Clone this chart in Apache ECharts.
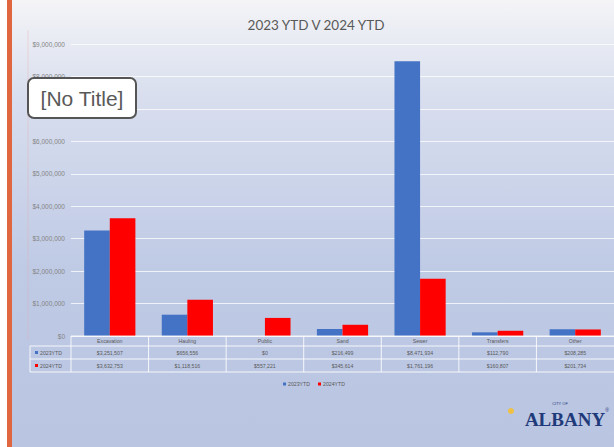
<!DOCTYPE html>
<html><head><meta charset="utf-8">
<script src="https://cdn.jsdelivr.net/npm/echarts@6/dist/echarts.min.js"></script>
<style>html,body{margin:0;padding:0;background:#fff}#c{width:614px;height:447px}</style>
</head><body><div id="c"></div>
<script>
const categories = ['Excavation','Hauling','Public','Sand','Sewer','Transfers','Other'];
const seriesNames = ['2023YTD','2024YTD'];
const values2023 = [3251507, 656556, 0, 216499, 8471934, 112790, 208285];
const values2024 = [3632753, 1118516, 557221, 345614, 1761196, 160807, 201734];
const yTicks = {min:0, max:9000000, interval:1000000};
const titleText = '2023 YTD V 2024 YTD';
const colors = ['#4472c4','#ff0000'];

const fmt = v => '$' + Math.round(v).toLocaleString('en-US');
const chart = echarts.init(document.getElementById('c'), null, {renderer:'svg'});
const gridTop = 44, gridBottom = 111, gridLeft = 71;
const option = {
  animation:false,
  title:{text:titleText,left:311,top:13,textAlign:'center',textStyle:{fontFamily:'Lato',fontSize:13.5,fontWeight:'normal',color:'#595959'}},
  grid:{left:gridLeft,right:0,top:gridTop,bottom:gridBottom},
  legend:{show:false},
  xAxis:{type:'category',data:categories,axisLine:{show:false},axisTick:{show:false},axisLabel:{show:false}},
  yAxis:{type:'value',min:yTicks.min,max:yTicks.max,interval:yTicks.interval,
    axisLabel:{formatter:fmt,fontSize:6.5,color:'#858585',margin:6,fontFamily:'Liberation Sans'},
    splitLine:{lineStyle:{color:'rgba(255,255,255,0.75)',width:1}},axisLine:{show:false},axisTick:{show:false}},
  series:[
    {name:seriesNames[0],type:'bar',data:values2023,barGap:'0%',barCategoryGap:'34%',itemStyle:{color:colors[0]}},
    {name:seriesNames[1],type:'bar',data:values2024,itemStyle:{color:colors[1]}}
  ]
};
chart.setOption(option);

const g = [];
g.push({type:'rect',z:-10,shape:{x:0,y:0,width:614,height:447},style:{fill:'#ffffff'},silent:true});
g.push({type:'rect',z:-9,shape:{x:12,y:0,width:602,height:447},style:{fill:new echarts.graphic.LinearGradient(0,0,0,1,[
  {offset:0,color:'#f4f4f7'},{offset:0.22,color:'#d8deee'},{offset:0.6,color:'#bfcae5'},{offset:1,color:'#b9c5e1'}])},silent:true});
g.push({type:'rect',z:-8,shape:{x:7,y:0,width:5,height:447},style:{fill:'#e0663f'},silent:true});
g.push({type:'line',z:-7,shape:{x1:28,y1:30,x2:28,y2:340},style:{stroke:'rgba(230,170,170,0.35)',lineWidth:1},silent:true});

const x0 = chart.convertToPixel({xAxisIndex:0}, 0);
const x1 = chart.convertToPixel({xAxisIndex:0}, 1);
const band = x1 - x0;
const yBase = chart.convertToPixel({yAxisIndex:0}, 0);
const rowY = [yBase, yBase+10, yBase+23, yBase+36];
const tableLeft = 30;
const lineColor = 'rgba(255,255,255,0.85)';
const txt = {fontSize:5.2,fill:'#595959',fontFamily:'Liberation Sans',align:'center',verticalAlign:'middle'};
g.push({type:'line',z:5,shape:{x1:x0-band/2,y1:rowY[0],x2:614,y2:rowY[0]},style:{stroke:lineColor,lineWidth:1}});
for (let r=1;r<4;r++) g.push({type:'line',z:5,shape:{x1:tableLeft,y1:rowY[r],x2:614,y2:rowY[r]},style:{stroke:lineColor,lineWidth:1}});
g.push({type:'line',z:5,shape:{x1:tableLeft,y1:rowY[1],x2:tableLeft,y2:rowY[3]},style:{stroke:lineColor,lineWidth:1}});
categories.forEach((c,i)=>{
  const cx = chart.convertToPixel({xAxisIndex:0}, i);
  const lx = cx - band/2;
  g.push({type:'line',z:5,shape:{x1:lx,y1:rowY[0],x2:lx,y2:rowY[3]},style:{stroke:lineColor,lineWidth:1}});
  g.push({type:'text',z:6,x:cx,y:(rowY[0]+rowY[1])/2,style:Object.assign({text:c},txt)});
  g.push({type:'text',z:6,x:cx,y:(rowY[1]+rowY[2])/2,style:Object.assign({text:fmt(values2023[i])},txt)});
  g.push({type:'text',z:6,x:cx,y:(rowY[2]+rowY[3])/2,style:Object.assign({text:fmt(values2024[i])},txt)});
});
seriesNames.forEach((n,k)=>{
  const yy = (rowY[k+1]+rowY[k+2])/2;
  g.push({type:'rect',z:6,shape:{x:tableLeft+5,y:yy-1.5,width:3,height:3},style:{fill:colors[k]}});
  g.push({type:'text',z:6,x:tableLeft+10,y:yy,style:Object.assign({},txt,{text:n,align:'left'})});
});
const legY = 384;
const legX = [283, 318];
seriesNames.forEach((n,k)=>{
  g.push({type:'rect',z:6,shape:{x:legX[k],y:legY-1.5,width:3,height:3},style:{fill:colors[k]}});
  g.push({type:'text',z:6,x:legX[k]+5,y:legY,style:Object.assign({},txt,{text:n,align:'left'})});
});
g.push({type:'rect',z:20,shape:{x:28,y:78,width:108,height:40,r:6},style:{fill:'#ffffff',stroke:'#555555',lineWidth:2}});
g.push({type:'text',z:21,x:82,y:98,style:{text:'[No Title]',fontSize:21,fill:'#595959',fontFamily:'Liberation Sans',align:'center',verticalAlign:'middle'}});
g.push({type:'circle',z:6,shape:{cx:511,cy:411,r:3},style:{fill:'#f0c040'}});
g.push({type:'text',z:6,x:560,y:403,style:{text:'CITY OF',fontSize:4,fill:'#1f3a7a',fontFamily:'Liberation Sans',align:'center',verticalAlign:'middle'}});
g.push({type:'text',z:6,x:565,y:419,style:{text:'ALBANY',fontSize:19,fontWeight:'bold',fill:'#1f3a7a',fontFamily:'Liberation Serif',align:'center',verticalAlign:'middle'}});
g.push({type:'text',z:6,x:607,y:410,style:{text:'®',fontSize:5,fill:'#1f3a7a',fontFamily:'Liberation Sans',align:'center',verticalAlign:'middle'}});
chart.setOption({graphic:{elements:g}});
</script></body></html>
